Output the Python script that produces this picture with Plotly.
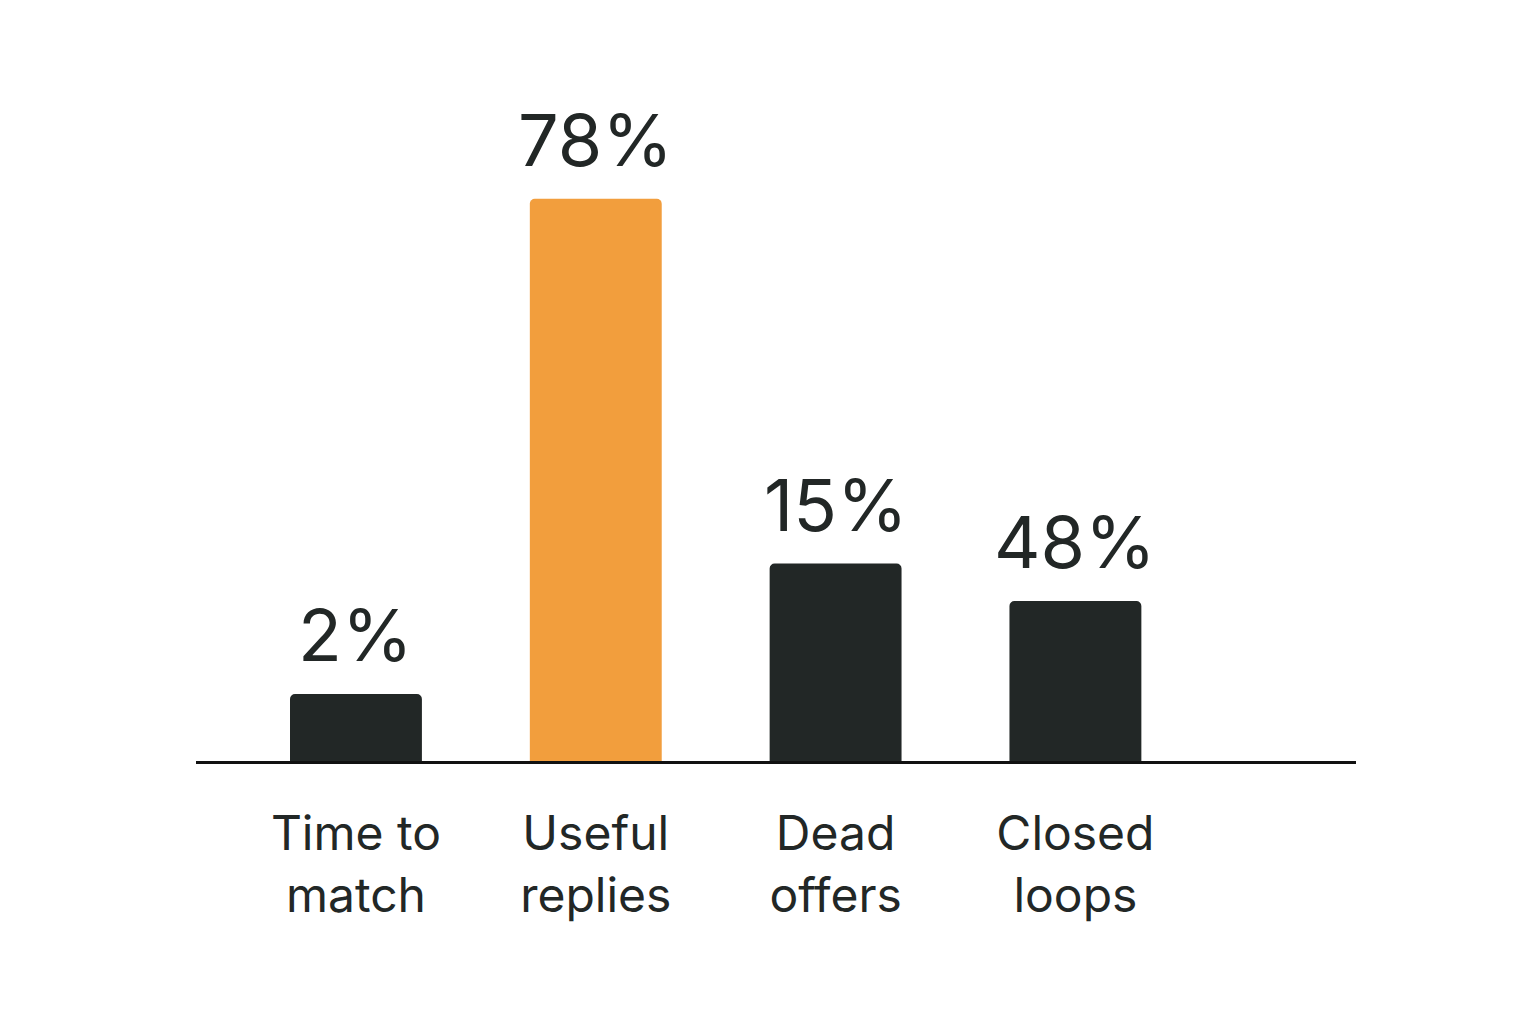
import plotly.graph_objects as go

categories = ["Time to<br>match", "Useful<br>replies", "Dead<br>offers", "Closed<br>loops"]
# bar heights as drawn (the picture's bars are not proportional to their labels)
bar_heights = [9.3, 78, 27.4, 22.2]
value_labels = ["2%", "78%", "15%", "48%"]
colors = ["#222726", "#F29E3D", "#222726", "#222726"]

x = list(range(len(categories)))
fig = go.Figure(go.Bar(x=x, y=bar_heights, marker=dict(color=colors, cornerradius=5, line=dict(width=0)),
                       width=0.55))
for xi, h, t in zip(x, bar_heights, value_labels):
    fig.add_annotation(x=xi, y=h, text=t, showarrow=False, yanchor="bottom", yshift=14,
                       font=dict(size=72, color="#222726", family="Inter"))
fig.update_layout(
    width=1536, height=1024, paper_bgcolor="white", plot_bgcolor="white",
    margin=dict(l=188, r=188, t=100, b=271), showlegend=False,
    font=dict(family="Inter", color="#222726"),
)
fig.update_xaxes(range=[-0.667, 4.17], tickvals=x, ticktext=categories, showline=True,
                 linecolor="#111111", linewidth=3, showgrid=False, zeroline=False,
                 ticks="", ticklabelstandoff=28, tickfont=dict(size=48, color="#222726"))
fig.update_yaxes(range=[0, 90.6], visible=False)
fig.write_html("out.html")
